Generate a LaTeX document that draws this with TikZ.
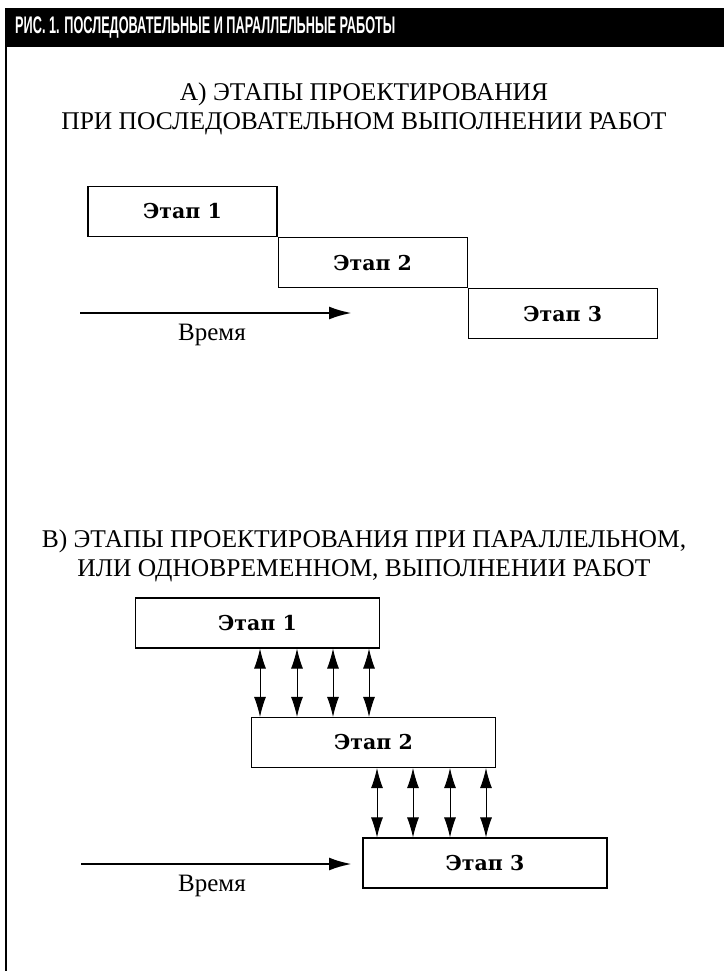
\documentclass[tikz,border=0pt]{standalone}
\usepackage{fontspec}
\setmainfont{Liberation Serif}
\newfontfamily\headfont[FakeStretch=0.53]{Liberation Sans}
\newfontfamily\stagefont{DejaVu Serif}
\usetikzlibrary{arrows.meta}

\begin{document}
\begin{tikzpicture}[x=1pt, y=-1pt,
    stagea/.style={draw, line width=1.1pt, minimum width=189pt, minimum height=50pt,
      inner sep=0pt, font=\stagefont\bfseries\fontsize{20.5}{24}\selectfont},
    stageb/.style={stagea, minimum width=244pt},
    heading/.style={align=center, font=\fontsize{25.5}{29}\selectfont},
    timearrow/.style={line width=2.7pt, -{Latex[length=23pt, width=13pt]}},
    link/.style={line width=0.9pt, {Latex[length=20pt, width=12pt]}-{Latex[length=20pt, width=12pt]}}]
    \useasboundingbox (0,0) rectangle (724,971);
    % header bar and frame
    \fill (5,8) rectangle (724,47);
    \node[anchor=west, text=white, inner sep=0pt,
      font=\headfont\bfseries\fontsize{24}{26}\selectfont] (head) at (15,27.5)
      {РИС. 1. ПОСЛЕДОВАТЕЛЬНЫЕ И ПАРАЛЛЕЛЬНЫЕ РАБОТЫ};
    \draw[line width=2pt] (6,47) -- (6,971);

    % A) one after another
    \node[heading] (titlea) at (364,108.5)
      {А) ЭТАПЫ ПРОЕКТИРОВАНИЯ\\ПРИ ПОСЛЕДОВАТЕЛЬНОМ ВЫПОЛНЕНИИ РАБОТ};
    \node[stagea] (a1) at (182.5,211.5) {Этап 1};
    \node[stagea, anchor=north west] (a2) at (a1.south east) {Этап 2};
    \node[stagea, anchor=north west] (a3) at (a2.south east) {Этап 3};
    \coordinate (ta0) at (80,313);
    \coordinate (ta1) at (352,313);
    \draw[timearrow] (ta0) -- (ta1);
    \node[font=\fontsize{25}{28}\selectfont] (timea) at (212,335) {Время};

    % B) in parallel
    \node[heading] (titleb) at (364,556)
      {В) ЭТАПЫ ПРОЕКТИРОВАНИЯ ПРИ ПАРАЛЛЕЛЬНОМ,\\ИЛИ ОДНОВРЕМЕННОМ, ВЫПОЛНЕНИИ РАБОТ};
    \node[stageb] (b1) at (257.5,623) {Этап 1};
    \node[stageb] (b2) at (373.5,742.5) {Этап 2};
    \node[stageb] (b3) at (485,863) {Этап 3};
    \foreach \x [count=\i] in {260,297,333,369} {
        \coordinate (u\i) at (\x,0);
        \draw[link] (u\i |- b1.south) -- (u\i |- b2.north);
    }
    \foreach \x [count=\i] in {377,413,450,486} {
        \coordinate (v\i) at (\x,0);
        \draw[link] (v\i |- b2.south) -- (v\i |- b3.north);
    }
    \coordinate (tb0) at (81,864);
    \coordinate (tb1) at (352,864);
    \draw[timearrow] (tb0) -- (tb1);
    \node[font=\fontsize{25}{28}\selectfont] (timeb) at (212,886) {Время};
\end{tikzpicture}
\end{document}
